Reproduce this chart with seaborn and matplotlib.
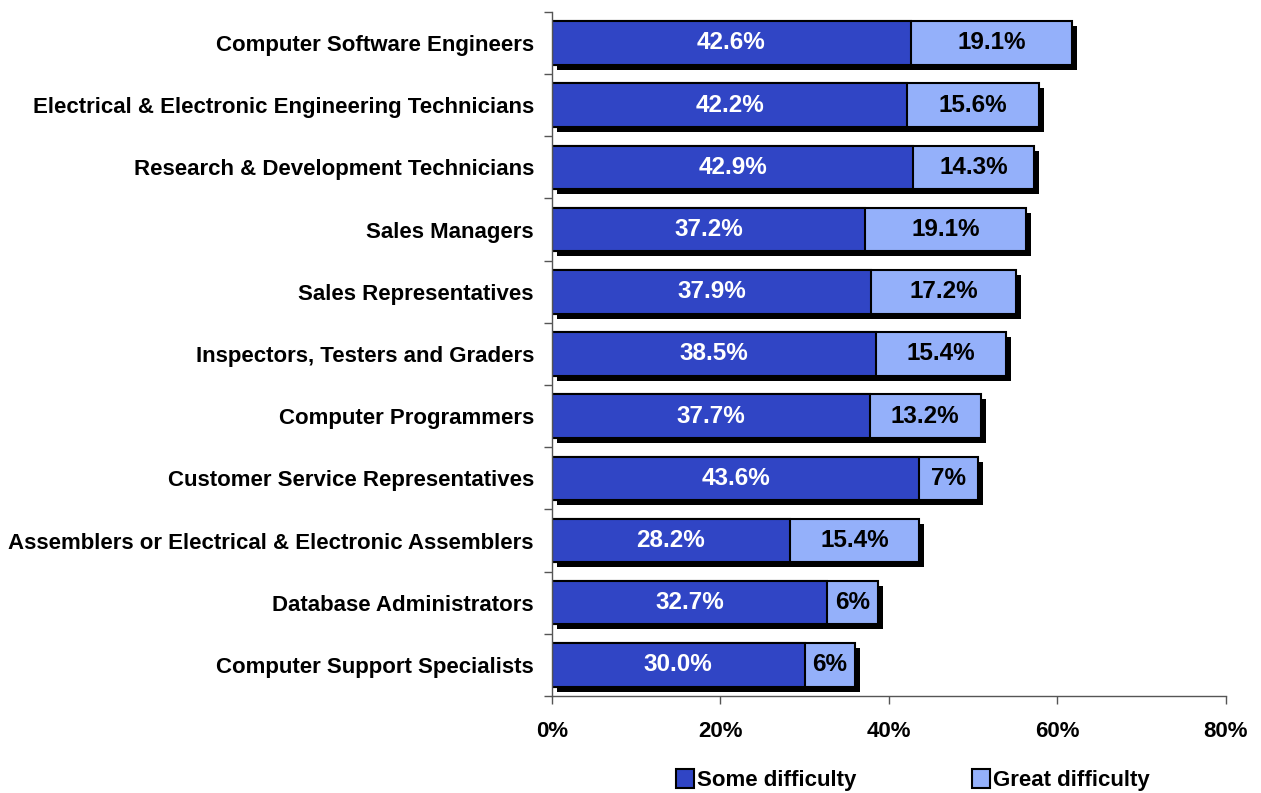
import pandas as pd
import matplotlib
matplotlib.use("Agg")
import matplotlib.pyplot as plt
import matplotlib.patheffects as pe
from matplotlib.patches import Patch
import seaborn as sns

# --- Data (top to bottom) ---
occupations = [
    "Computer Software Engineers",
    "Electrical & Electronic Engineering Technicians",
    "Research & Development Technicians",
    "Sales Managers",
    "Sales Representatives",
    "Inspectors, Testers and Graders",
    "Computer Programmers",
    "Customer Service Representatives",
    "Assemblers or Electrical & Electronic Assemblers",
    "Database Administrators",
    "Computer Support Specialists",
]
some_difficulty = [42.6, 42.2, 42.9, 37.2, 37.9, 38.5, 37.7, 43.6, 28.2, 32.7, 30.0]
great_difficulty = [19.1, 15.6, 14.3, 19.1, 17.2, 15.4, 13.2, 7.0, 15.4, 6.0, 6.0]
some_labels = ["42.6%", "42.2%", "42.9%", "37.2%", "37.9%", "38.5%", "37.7%", "43.6%", "28.2%", "32.7%", "30.0%"]
great_labels = ["19.1%", "15.6%", "14.3%", "19.1%", "17.2%", "15.4%", "13.2%", "7%", "15.4%", "6%", "6%"]
x_ticks = [0, 20, 40, 60, 80]

dark_blue = "#3045C5"
light_blue = "#94B0FA"

df = pd.DataFrame({"occupation": occupations, "some": some_difficulty, "great": great_difficulty})
df["total"] = df["some"] + df["great"]

sns.set_style("white")
plt.rcParams["font.family"] = ["Liberation Sans", "DejaVu Sans"]
plt.rcParams["font.weight"] = "bold"
plt.rcParams["text.color"] = "black"
plt.rcParams["xtick.color"] = "black"
plt.rcParams["ytick.color"] = "black"

fig = plt.figure(figsize=(12.61, 7.93), dpi=100)
ax = fig.add_axes([0.4377, 0.1223, 0.5345, 0.8627])

# --- total bar (great difficulty colour) with drop shadow ---
sns.barplot(data=df, x="total", y="occupation", orient="h", color=light_blue,
            edgecolor="black", linewidth=1.5, width=0.7, saturation=1, ax=ax)
for p in ax.patches:
    p.set_path_effects([pe.SimplePatchShadow(offset=(3.6, -3.6), shadow_rgbFace="black", alpha=1),
                        pe.Normal()])

# --- some difficulty on top ---
sns.barplot(data=df, x="some", y="occupation", orient="h", color=dark_blue,
            edgecolor="black", linewidth=1.5, width=0.7, saturation=1, ax=ax)

# --- value labels ---
for i, row in df.iterrows():
    ax.text(row["some"] / 2, i, some_labels[i], color="white", ha="center", va="center",
            fontsize=17.5, fontweight="bold")
    ax.text(row["some"] + row["great"] / 2, i, great_labels[i], color="black", ha="center",
            va="center", fontsize=17.5, fontweight="bold")

ax.set_xlim(0, 80)
ax.set_ylim(len(occupations) - 0.5, -0.5)
ax.set_xticks(x_ticks)
ax.set_xticklabels([f"{v}%" for v in x_ticks], fontsize=16, fontweight="bold")
ax.set_yticks(range(len(occupations)))
ax.set_yticklabels(occupations, fontsize=16, fontweight="bold")
ax.set_yticks([i - 0.5 for i in range(len(occupations) + 1)], minor=True)
ax.tick_params(axis="y", which="major", length=0, pad=13)
ax.tick_params(axis="y", which="minor", length=6, width=1, color="#555555", direction="out", left=True)
ax.tick_params(axis="x", length=6, width=1, color="#555555", direction="out", bottom=True, pad=12)
ax.set_xlabel("")
ax.set_ylabel("")

for side in ["top", "right"]:
    ax.spines[side].set_visible(False)
for side in ["left", "bottom"]:
    ax.spines[side].set_color("#555555")
    ax.spines[side].set_linewidth(1)

handles = [Patch(facecolor=dark_blue, edgecolor="black", linewidth=1.5, label="Some difficulty"),
           Patch(facecolor=light_blue, edgecolor="black", linewidth=1.5, label="Great difficulty")]
fig.legend(handles=handles, loc="center", bbox_to_anchor=(0.724, 0.016), ncol=2, frameon=False,
           prop={"size": 16, "weight": "bold"}, handlelength=0.8, handleheight=0.9,
           handletextpad=0.15, columnspacing=5.2)

fig.savefig("out.png", dpi=100)
